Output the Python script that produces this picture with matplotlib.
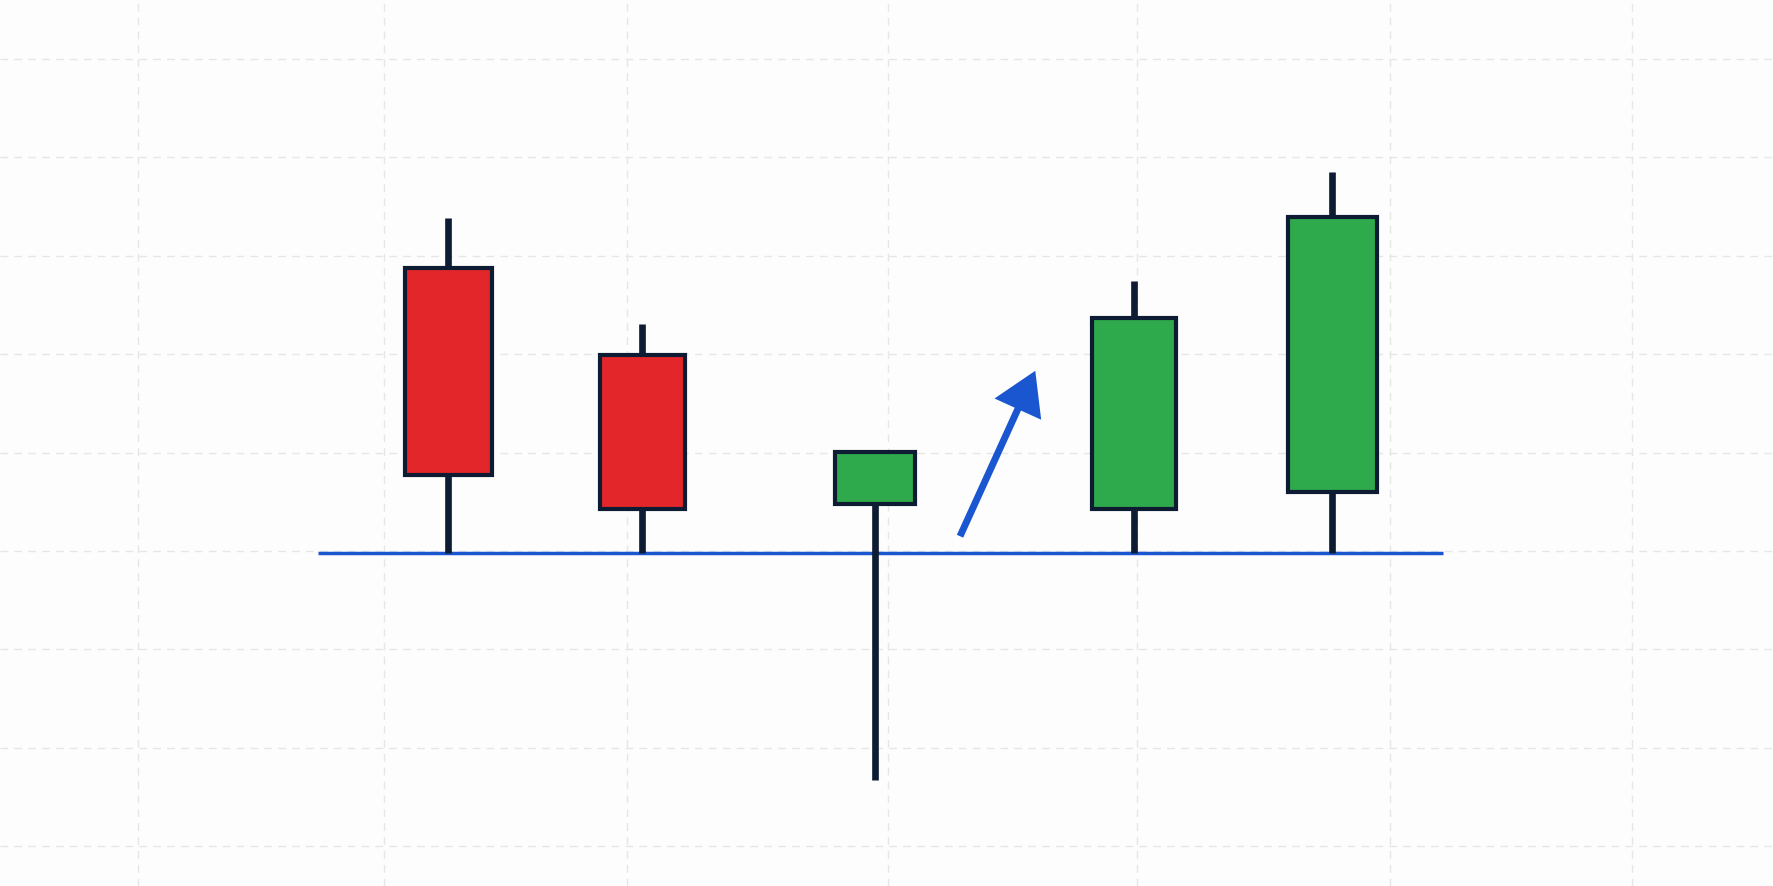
import numpy as np
import matplotlib
matplotlib.use("Agg")
import matplotlib.pyplot as plt

# candle data (x position, price values)
candle_x = [4.48, 6.42, 8.75, 11.34, 13.32]
opens = [128.8, 119.9, 104.8, 104.3, 106.0]
closes = [107.7, 104.3, 110.1, 123.7, 133.9]
highs = [133.8, 123.1, 110.1, 127.4, 138.5]
lows = [99.8, 99.8, 76.7, 99.8, 99.8]
body_widths = [0.87, 0.85, 0.80, 0.84, 0.89]

support_level = 99.8
support_span = [3.18, 14.43]

arrow_tail = (9.60, 101.5)
arrow_tip = (10.37, 118.7)

grid_x = [1.38, 3.84, 6.27, 8.88, 11.37, 13.90, 16.32]
grid_y = [70, 80, 90, 100, 110, 120, 130, 140, 150]

RED = "#E3262A"
GREEN = "#2EA94B"
DARK = "#0D1B33"
BLUE = "#1A56D0"


def draw_chart():
    fig = plt.figure(figsize=(17.74, 8.87), dpi=100)
    fig.patch.set_facecolor("#FDFDFD")
    ax = fig.add_axes([0, 0, 1, 1])
    ax.set_facecolor("#FDFDFD")
    ax.set_xlim(0, 17.74)
    ax.set_ylim(100 - 335 / 9.84, 100 + 552 / 9.84)

    # dashed background grid
    ax.set_xticks(grid_x)
    ax.set_yticks(grid_y)
    ax.tick_params(length=0, labelbottom=False, labelleft=False)
    ax.grid(True, color="#E6E6E6", linestyle=(0, (5.5, 4.5)), linewidth=1.0)
    ax.set_axisbelow(True)
    for sp in ax.spines.values():
        sp.set_visible(False)

    # support line
    ax.hlines(support_level, support_span[0], support_span[1], color=BLUE, lw=2.5, zorder=1.5)

    # wicks
    ax.vlines(candle_x, lows, highs, color=DARK, lw=4.8, zorder=2)

    # bodies
    bottoms = np.minimum(opens, closes)
    heights = np.abs(np.array(closes) - np.array(opens))
    colors = [GREEN if c > o else RED for o, c in zip(opens, closes)]
    ax.bar(candle_x, heights, bottom=bottoms, width=body_widths, color=colors,
           edgecolor=DARK, linewidth=3.0, zorder=3)

    # upward arrow
    ax.annotate("", xy=arrow_tip, xytext=arrow_tail,
                arrowprops=dict(arrowstyle="-|>,head_length=1.15,head_width=0.7",
                                mutation_scale=20, lw=5.0, color=BLUE,
                                joinstyle="miter", capstyle="butt",
                                shrinkA=0, shrinkB=3))

    fig.savefig("out.png", dpi=100, facecolor=fig.get_facecolor())


if __name__ == "__main__":
    draw_chart()
